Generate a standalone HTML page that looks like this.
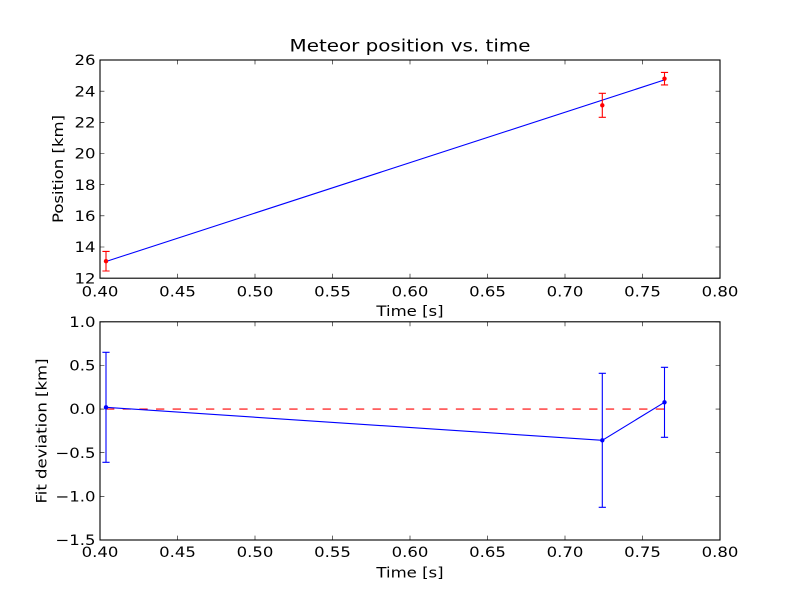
<!DOCTYPE html>
<html><head><meta charset="utf-8"><style>
html,body{margin:0;padding:0;background:#fff;}
svg{display:block;}
text{font-family:"DejaVu Sans","Liberation Sans",sans-serif;fill:#000;}
</style></head><body>
<svg width="800" height="600" viewBox="0 0 800 600" xmlns="http://www.w3.org/2000/svg">
<rect width="800" height="600" fill="#fff"/>
<!-- Title -->
<text transform="translate(410,51.5) scale(1.17,1)" font-size="17" text-anchor="middle">Meteor position vs. time</text>

<!-- ===== TOP AXES ===== -->
<g stroke="#000" stroke-width="0.6" fill="none">
  <path d="M100,278.2v-4.4M177.5,278.2v-4.4M255,278.2v-4.4M332.5,278.2v-4.4M410,278.2v-4.4M487.5,278.2v-4.4M565,278.2v-4.4M642.5,278.2v-4.4M720,278.2v-4.4"/>
  <path d="M100,60v4.4M177.5,60v4.4M255,60v4.4M332.5,60v4.4M410,60v4.4M487.5,60v4.4M565,60v4.4M642.5,60v4.4M720,60v4.4"/>
  <path d="M100,278.2h4.4M100,247.0h4.4M100,215.8h4.4M100,184.7h4.4M100,153.5h4.4M100,122.3h4.4M100,91.2h4.4M100,60h4.4"/>
  <path d="M720,278.2h-4.4M720,247.0h-4.4M720,215.8h-4.4M720,184.7h-4.4M720,153.5h-4.4M720,122.3h-4.4M720,91.2h-4.4M720,60h-4.4"/>
</g>
<polyline points="106,261.5 664.5,79.9" fill="none" stroke="#0000ff" stroke-width="1.1"/>
<g stroke="#ff0000" stroke-width="1.1" fill="none">
  <path d="M106,251.4V271.0M102.4,251.4h7.2M102.4,271.0h7.2"/>
  <path d="M602.3,93.3V117.3M598.7,93.3h7.2M598.7,117.3h7.2"/>
  <path d="M664.5,72.4V84.9M660.9,72.4h7.2M660.9,84.9h7.2"/>
</g>
<g fill="#ff0000">
  <circle cx="106" cy="261.2" r="2.2"/>
  <circle cx="602.3" cy="105.3" r="2.2"/>
  <circle cx="664.5" cy="78.65" r="2.2"/>
</g>
<rect x="100" y="60" width="620" height="218.2" fill="none" stroke="#000" stroke-width="1.1"/>
<g font-size="14.5" text-anchor="middle">
  <text transform="translate(100,296.7) scale(1.14,1)">0.40</text>
  <text transform="translate(177.5,296.7) scale(1.14,1)">0.45</text>
  <text transform="translate(255,296.7) scale(1.14,1)">0.50</text>
  <text transform="translate(332.5,296.7) scale(1.14,1)">0.55</text>
  <text transform="translate(410,296.7) scale(1.14,1)">0.60</text>
  <text transform="translate(487.5,296.7) scale(1.14,1)">0.65</text>
  <text transform="translate(565,296.7) scale(1.14,1)">0.70</text>
  <text transform="translate(642.5,296.7) scale(1.14,1)">0.75</text>
  <text transform="translate(720,296.7) scale(1.14,1)">0.80</text>
</g>
<g font-size="14.5" text-anchor="end">
  <text transform="translate(95.5,283.3) scale(1.14,1)">12</text>
  <text transform="translate(95.5,252.1) scale(1.14,1)">14</text>
  <text transform="translate(95.5,220.9) scale(1.14,1)">16</text>
  <text transform="translate(95.5,189.8) scale(1.14,1)">18</text>
  <text transform="translate(95.5,158.6) scale(1.14,1)">20</text>
  <text transform="translate(95.5,127.4) scale(1.14,1)">22</text>
  <text transform="translate(95.5,96.3) scale(1.14,1)">24</text>
  <text transform="translate(95.5,65.1) scale(1.14,1)">26</text>
</g>
<text transform="translate(410,315.8) scale(1.14,1)" font-size="14.5" text-anchor="middle">Time [s]</text>
<text transform="translate(63,169) rotate(-90) scale(1.14,1)" font-size="14.5" text-anchor="middle">Position [km]</text>

<!-- ===== BOTTOM AXES ===== -->
<g stroke="#000" stroke-width="0.6" fill="none">
  <path d="M100,540v-4.4M177.5,540v-4.4M255,540v-4.4M332.5,540v-4.4M410,540v-4.4M487.5,540v-4.4M565,540v-4.4M642.5,540v-4.4M720,540v-4.4"/>
  <path d="M100,321.8v4.4M177.5,321.8v4.4M255,321.8v4.4M332.5,321.8v4.4M410,321.8v4.4M487.5,321.8v4.4M565,321.8v4.4M642.5,321.8v4.4M720,321.8v4.4"/>
  <path d="M100,540h4.4M100,496.4h4.4M100,452.7h4.4M100,409.1h4.4M100,365.5h4.4M100,321.8h4.4"/>
  <path d="M720,540h-4.4M720,496.4h-4.4M720,452.7h-4.4M720,409.1h-4.4M720,365.5h-4.4M720,321.8h-4.4"/>
</g>
<line x1="106" y1="409.1" x2="664.5" y2="409.1" stroke="#ff0000" stroke-width="1.1" stroke-dasharray="8.33 8.33"/>
<polyline points="106,407.3 602.3,440.3 664.5,402.3" fill="none" stroke="#0000ff" stroke-width="1.1"/>
<g stroke="#0000ff" stroke-width="1.1" fill="none">
  <path d="M106,352.3V462.3M102.4,352.3h7.2M102.4,462.3h7.2"/>
  <path d="M602.3,373.3V507.3M598.7,373.3h7.2M598.7,507.3h7.2"/>
  <path d="M664.5,367.3V437.3M660.9,367.3h7.2M660.9,437.3h7.2"/>
</g>
<g fill="#0000ff">
  <circle cx="106" cy="407.3" r="2.2"/>
  <circle cx="602.3" cy="440.3" r="2.2"/>
  <circle cx="664.5" cy="402.3" r="2.2"/>
</g>
<rect x="100" y="321.8" width="620" height="218.2" fill="none" stroke="#000" stroke-width="1.1"/>
<g font-size="14.5" text-anchor="middle">
  <text transform="translate(100,557.2) scale(1.14,1)">0.40</text>
  <text transform="translate(177.5,557.2) scale(1.14,1)">0.45</text>
  <text transform="translate(255,557.2) scale(1.14,1)">0.50</text>
  <text transform="translate(332.5,557.2) scale(1.14,1)">0.55</text>
  <text transform="translate(410,557.2) scale(1.14,1)">0.60</text>
  <text transform="translate(487.5,557.2) scale(1.14,1)">0.65</text>
  <text transform="translate(565,557.2) scale(1.14,1)">0.70</text>
  <text transform="translate(642.5,557.2) scale(1.14,1)">0.75</text>
  <text transform="translate(720,557.2) scale(1.14,1)">0.80</text>
</g>
<g font-size="14.5" text-anchor="end">
  <text transform="translate(95.5,545.1) scale(1.14,1)">−1.5</text>
  <text transform="translate(95.5,501.5) scale(1.14,1)">−1.0</text>
  <text transform="translate(95.5,457.8) scale(1.14,1)">−0.5</text>
  <text transform="translate(95.5,414.2) scale(1.14,1)">0.0</text>
  <text transform="translate(95.5,370.6) scale(1.14,1)">0.5</text>
  <text transform="translate(95.5,326.9) scale(1.14,1)">1.0</text>
</g>
<text transform="translate(410,577.5) scale(1.14,1)" font-size="14.5" text-anchor="middle">Time [s]</text>
<text transform="translate(46.5,431) rotate(-90) scale(1.14,1)" font-size="14.5" text-anchor="middle">Fit deviation [km]</text>
</svg>
</body></html>
